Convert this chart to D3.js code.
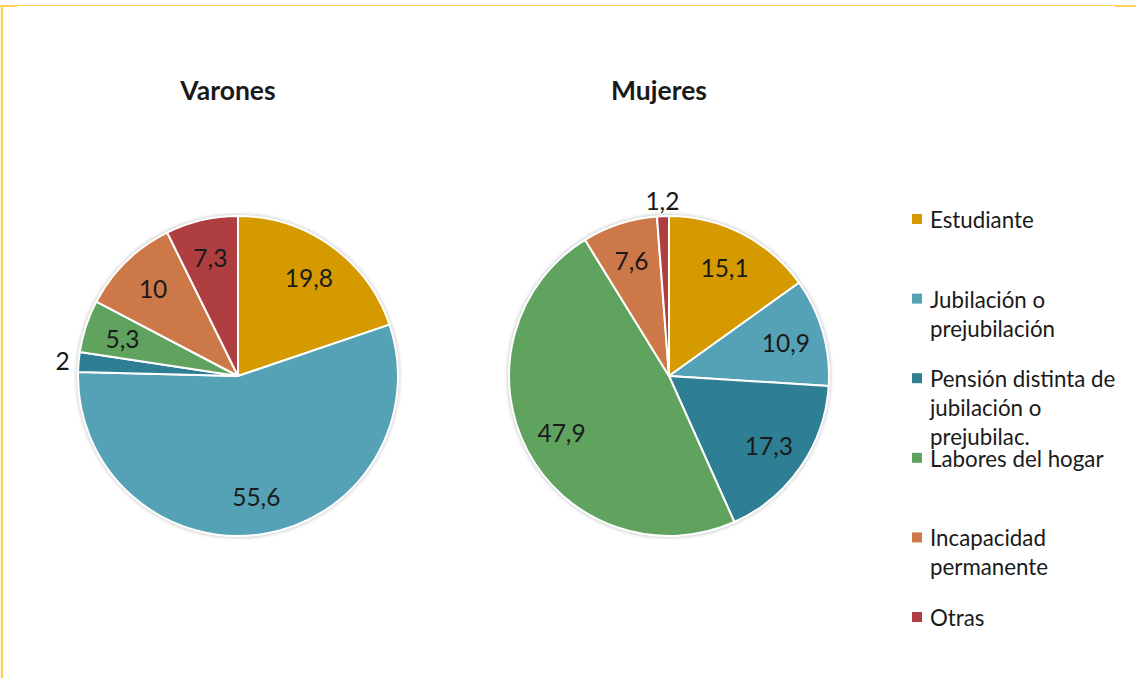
<!DOCTYPE html>
<html>
<head>
<meta charset="utf-8">
<script src="https://cdn.jsdelivr.net/npm/d3@7"></script>
<style>
  html, body { margin: 0; padding: 0; background: #fff; }
  svg { display: block; }
  text { font-family: Lato, "Open Sans", sans-serif; fill: #1a1a1a; }
</style>
</head>
<body>
<svg id="chart" width="1136" height="678"></svg>
<script>
// Categories of inactivity and their colours
const categories = [
  "Estudiante",
  "Jubilación o prejubilación",
  "Pensión distinta de jubilación o prejubilac.",
  "Labores del hogar",
  "Incapacidad permanente",
  "Otras"
];
const legendLines = [
  ["Estudiante"],
  ["Jubilación o", "prejubilación"],
  ["Pensión distinta de", "jubilación o", "prejubilac."],
  ["Labores del hogar"],
  ["Incapacidad", "permanente"],
  ["Otras"]
];
const colors = ["#D49A00", "#55A2B6", "#2E7E94", "#5FA35F", "#CD7849", "#AE3E3F"];

// Percentages per sex
const varones = [19.8, 55.6, 2, 5.3, 10, 7.3];
const mujeres = [15.1, 10.9, 17.3, 47.9, 7.6, 1.2];
const pieTitles = ["Varones", "Mujeres"];

const svg = d3.select("#chart");
const W = 1136, H = 678;

// Frame lines
const frame = svg.append("g").attr("stroke", "#FFD15C").attr("fill", "none");
frame.append("line").attr("x1", 0).attr("x2", W).attr("y1", 5.5).attr("y2", 5.5).attr("stroke-width", 1.2);
frame.append("line").attr("x1", 2).attr("x2", 2).attr("y1", 5).attr("y2", H).attr("stroke-width", 2.4);
frame.append("line").attr("x1", 0).attr("x2", 17).attr("y1", 6).attr("y2", 6).attr("stroke-width", 2);
frame.append("line").attr("x1", 1115).attr("x2", W).attr("y1", 6).attr("y2", 6).attr("stroke-width", 2);

const radius = 160;
const pie = d3.pie().sort(null).value(d => d);
const arc = d3.arc().innerRadius(0).outerRadius(radius);
const labelArc = d3.arc().innerRadius(radius * 0.76).outerRadius(radius * 0.76);
const outsideArc = d3.arc().innerRadius(radius * 1.1).outerRadius(radius * 1.1);

const fmt = v => String(v).replace(".", ",");

const centers = d3.scalePoint().domain(pieTitles).range([238, 669]);
const cy = 376;

const soft = svg.append("defs").append("filter").attr("id", "soft")
  .attr("x", "-10%").attr("y", "-10%").attr("width", "120%").attr("height", "120%");
soft.append("feGaussianBlur").attr("stdDeviation", 1.5);

[varones, mujeres].forEach((vals, i) => {
  const name = pieTitles[i];
  const cx = centers(name);
  const g = svg.append("g").attr("transform", `translate(${cx},${cy})`);

  // faint halo around the pie
  g.append("circle").attr("r", radius + 1).attr("fill", "none")
    .attr("stroke", "#c8c8c8").attr("stroke-width", 2).attr("filter", "url(#soft)");

  const arcs = pie(vals);
  g.selectAll("path").data(arcs).join("path")
    .attr("d", arc)
    .attr("fill", (d, j) => colors[j])
    .attr("stroke", "#fff")
    .attr("stroke-width", 2)
    .attr("stroke-linejoin", "round");

  g.selectAll("text.val").data(arcs).join("text")
    .attr("class", "val")
    .attr("transform", d => {
      const small = d.data < 3;
      const p = (small ? outsideArc : labelArc).centroid(d);
      return `translate(${p[0]},${p[1]})`;
    })
    .attr("text-anchor", "middle")
    .attr("dominant-baseline", "central")
    .attr("font-size", 24.5)
    .text(d => fmt(d.data));

  svg.append("text")
    .attr("x", cx - 10).attr("y", 90)
    .attr("text-anchor", "middle")
    .attr("dominant-baseline", "central")
    .attr("font-size", 26.5)
    .attr("font-weight", "bold")
    .text(name);
});

// Legend
const legendY = d3.scalePoint().domain(categories).range([219, 617]);
const lg = svg.append("g");
categories.forEach((c, j) => {
  const y = legendY(c);
  lg.append("rect").attr("x", 912).attr("y", y - 5).attr("width", 10).attr("height", 10)
    .attr("fill", colors[j]);
  const t = lg.append("text").attr("x", 930).attr("y", y)
    .attr("font-size", 22.3).attr("dominant-baseline", "central");
  legendLines[j].forEach((line, k) => {
    t.append("tspan").attr("x", 930).attr("dy", k === 0 ? 0 : 29).text(line);
  });
});
</script>
</body>
</html>
